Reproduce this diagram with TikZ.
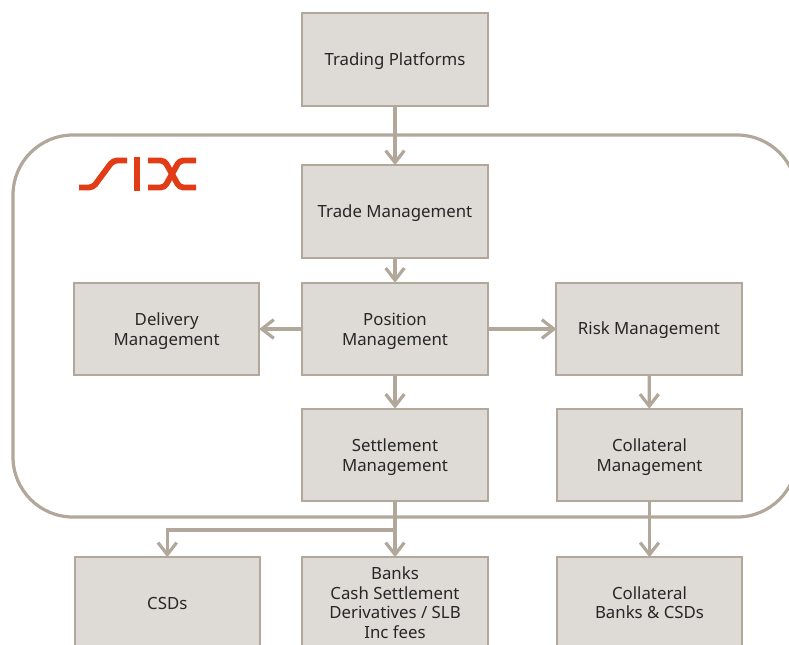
\documentclass[tikz,border=0pt]{standalone}
\usepackage{fontspec}
\setmainfont{Noto Sans}
\usetikzlibrary{arrows.meta}
\definecolor{sixgrey}{RGB}{177,167,154}
\definecolor{sixfill}{RGB}{222,219,214}
\definecolor{sixred}{RGB}{225,60,22}
\newcommand{\topup}{\rule{0pt}{13pt}}
\tikzset{
  blk/.style={draw=sixgrey,fill=sixfill,line width=1.5pt,minimum width=138.8pt,minimum height=69.5pt,
    inner sep=0pt,outer sep=0pt,align=center,font=\fontsize{12.6}{14.7}\selectfont,text=black!85},
  single/.style={blk,execute at begin node=\rule[-2pt]{0pt}{14pt}},
  low/.style={minimum height=68pt},
  conn/.style={draw=sixgrey,line width=2.4pt,-{Straight Barb[length=9pt,width=14pt,line width=2.4pt]}},
  logo/.style={draw=sixred,line width=4.4pt,rounded corners=3pt}
}
\begin{document}
\begin{tikzpicture}[x=0.75pt,y=0.75pt,yscale=-1]

\clip (0,0) rectangle (789,644);

\draw  [draw=sixgrey,line width=2.4pt,rounded corners=45pt]  (13,135) rectangle (797,517) ;

\draw  [logo]  (79,187.5) -- (93,187.5) -- (113,160.5) -- (127,160.5) ;
\draw  [logo]  (137,157) -- (137,191) ;
\draw  [logo]  (148,160.5) -- (164.5,160.5) -- (179.5,187.5) -- (196,187.5) ;
\draw  [logo]  (148,187.5) -- (164.5,187.5) -- (179.5,160.5) -- (196,160.5) ;

\node [single] (trading) at (395,59.5) {Trading Platforms};
\node [single] (trade) at (395,211.5) {Trade Management};
\node [blk] (position) at (395,329) {\topup Position\\Management};
\node [blk] (delivery) at (166.7,329) {\topup Delivery\\Management};
\node [single] (risk) at (649,329) {Risk Management};
\node [blk] (settlement) at (395,455) {\topup Settlement\\Management};
\node [blk] (collateral) at (649.5,455) {\topup Collateral\\Management};
\node [single,low] (csds) at (167.3,602.5) {CSDs};
\node [blk,low] (banks) at (395,602.5) {Banks\\Cash Settlement\\Derivatives / SLB\\Inc fees};
\node [blk,low] (colbanks) at (649.5,602.5) {Collateral\\Banks \& CSDs};
\coordinate (fork) at (395,530);

\draw  [conn]  (trading) -- (trade) ;
\draw  [conn]  (trade) -- (position) ;
\draw  [conn]  (position) -- (delivery) ;
\draw  [conn]  (position) -- (risk) ;
\draw  [conn]  (position) -- (settlement) ;
\draw  [conn]  (risk) -- (collateral) ;
\draw  [conn]  (settlement) -- (banks) ;
\draw  [conn]  (fork) -| (csds) ;
\draw  [conn]  (collateral) -- (colbanks) ;

\end{tikzpicture}
\end{document}
